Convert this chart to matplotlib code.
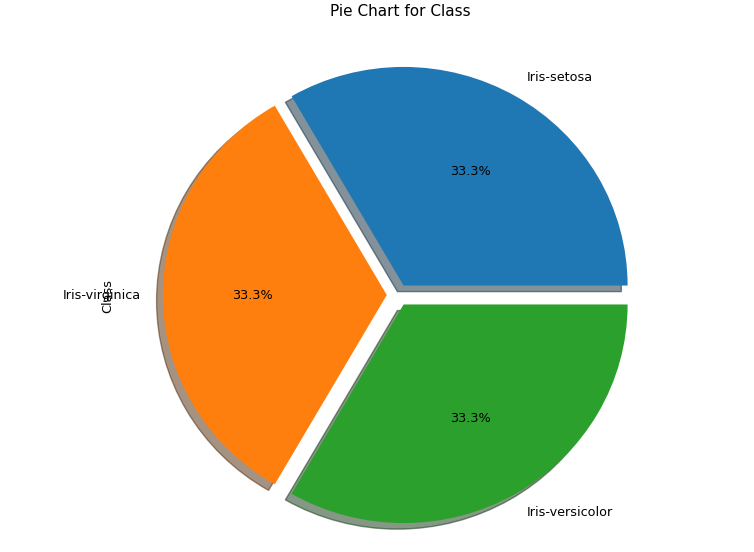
import matplotlib
matplotlib.use("Agg")
import matplotlib.pyplot as plt

categories = ["Iris-setosa", "Iris-virginica", "Iris-versicolor"]
counts = [50, 50, 50]
explode = [0.05, 0.05, 0.05]

W, H = 754, 552
fig = plt.figure(figsize=(W / 100, H / 100), dpi=100)

cx, cy = 398, 295  # pixel center from top-left
rx, ry = 224, 218.6
lim = 1.25
left = (cx - lim * rx) / W
bottom = ((H - cy) - lim * ry) / H
ax = fig.add_axes([left, bottom, 2 * lim * rx / W, 2 * lim * ry / H])

colors = ["#1f77b4", "#ff7f0e", "#2ca02c"]
ax.pie(counts, labels=categories, explode=explode, autopct="%1.1f%%",
       shadow=True, colors=colors, textprops={"fontsize": 9.2})
ax.set_aspect("auto")
ax.set_xlim(-lim, lim)
ax.set_ylim(-lim, lim)

fig.text(400 / W, 1 - 11 / H, "Pie Chart for Class", ha="center", va="center", fontsize=11)
fig.text(108 / W, 1 - 296 / H, "Class", rotation=90, ha="center", va="center", fontsize=9.2)

fig.savefig("out.png", dpi=100)
